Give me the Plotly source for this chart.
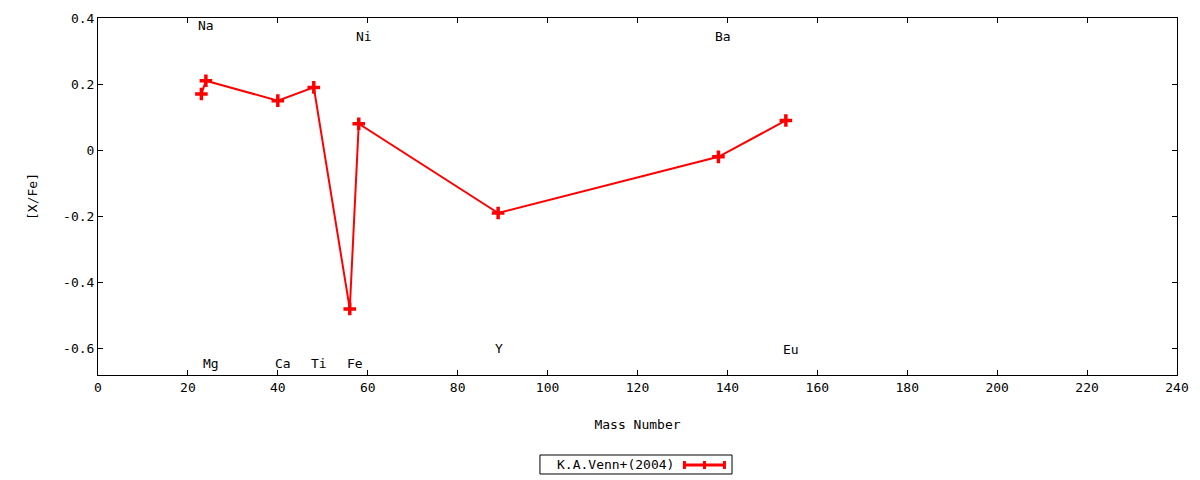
import plotly.graph_objects as go

# [X/Fe] against mass number, K.A.Venn+(2004)
mass = [23, 24, 40, 48, 56, 58, 89, 138, 153]
xfe = [0.17, 0.21, 0.15, 0.19, -0.48, 0.08, -0.19, -0.02, 0.09]

# element labels drawn inside the frame
elements = ["Na", "Mg", "Ca", "Ti", "Fe", "Ni", "Y", "Ba", "Eu"]
label_x = [23, 24, 40, 48, 56, 58, 89, 138, 153]
label_y = [0.377, -0.645, -0.645, -0.645, -0.645, 0.345, -0.600, 0.343, -0.603]

series_name = "K.A.Venn+(2004)"
font = dict(family="DejaVu Sans Mono", size=13, color="black")
red = "#ff0000"

fig = go.Figure()
fig.add_trace(go.Scatter(
    x=mass, y=xfe, mode="lines+markers", name=series_name,
    line=dict(color=red, width=2),
    marker=dict(symbol="cross-thin", size=9, line=dict(color=red, width=3.5)),
    showlegend=False,
))

for el, lx, ly in zip(elements, label_x, label_y):
    fig.add_annotation(x=lx, y=ly, text=el, showarrow=False, xanchor="left",
                       yanchor="middle", xshift=-5, font=font)

# gnuplot style key below the plot
fig.add_shape(type="rect", xref="paper", yref="paper", x0=0.4096, x1=0.5876,
              y0=-0.2773, y1=-0.2241, line=dict(color="black", width=1))
fig.add_annotation(xref="paper", yref="paper", x=0.4235, y=-0.2521, text=series_name,
                   showarrow=False, xanchor="left", yanchor="middle", font=font)
fig.add_shape(type="line", xref="paper", yref="paper", x0=0.543, x1=0.5811,
              y0=-0.2521, y1=-0.2521, line=dict(color=red, width=3))
for tx in [0.5435, 0.5621, 0.5806]:
    fig.add_shape(type="line", xref="paper", yref="paper", x0=tx, x1=tx,
                  y0=-0.2633, y1=-0.2409, line=dict(color=red, width=3))

axis_common = dict(showgrid=False, zeroline=False, showline=True, linecolor="black",
                   linewidth=1, mirror="ticks", ticks="inside", ticklen=5,
                   tickcolor="black", tickfont=font)

fig.update_xaxes(range=[0, 240], dtick=20, tick0=0,
                 title=dict(text="Mass Number", font=font, standoff=26), **axis_common)
fig.update_yaxes(range=[-0.68, 0.4], tickvals=[-0.6, -0.4, -0.2, 0, 0.2, 0.4],
                 ticktext=["-0.6", "-0.4", "-0.2", "0", "0.2", "0.4"],
                 title=dict(text="[X/Fe]", font=font, standoff=22), **axis_common)

fig.update_layout(width=1200, height=480, plot_bgcolor="white", paper_bgcolor="white",
                  margin=dict(l=98, r=23, t=18, b=105), font=font)

fig.write_html("out.html", config={"displayModeBar": False},
               post_script="document.body.style.margin='0';")
